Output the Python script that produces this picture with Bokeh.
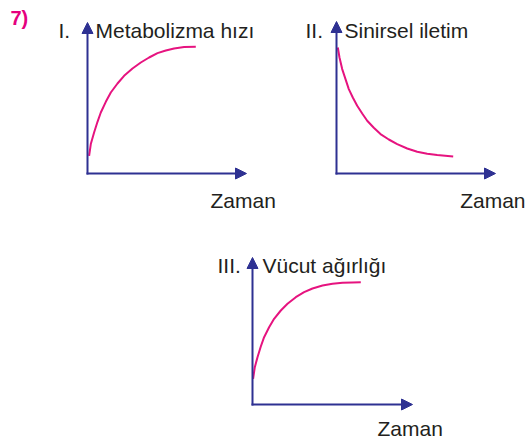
from bokeh.plotting import figure
from bokeh.layouts import column, row
from bokeh.models import Range1d, Arrow, NormalHead, Label, Spacer
from bokeh.embed import file_html
from bokeh.resources import INLINE

# ---------------- data (1 unit = 10 px of the drawing) ----------------
question = "7)"
numerals = ["I.", "II.", "III."]
titles = ["Metabolizma hızı", "Sinirsel iletim", "Vücut ağırlığı"]
x_label = "Zaman"

I_time = [0.16, 0.33, 0.66, 1.0, 1.33, 1.83, 2.33, 3.0, 3.66, 4.5, 5.33, 6.16, 7.0, 7.83, 8.66, 9.66, 10.83]
I_value = [1.77, 2.94, 4.10, 5.17, 6.10, 7.17, 8.10, 9.00, 9.77, 10.50, 11.10, 11.60, 12.04, 12.30, 12.50, 12.64, 12.67]

II_time = [0.13, 0.30, 0.57, 0.90, 1.23, 1.63, 2.07, 2.57, 3.07, 3.73, 4.40, 5.23, 6.07, 7.07, 8.07, 9.07, 10.07, 11.67]
II_value = [12.60, 11.60, 10.44, 9.44, 8.44, 7.60, 6.77, 6.00, 5.27, 4.57, 3.94, 3.40, 2.94, 2.50, 2.17, 1.97, 1.84, 1.70]

III_time = [0.06, 0.23, 0.50, 0.83, 1.16, 1.66, 2.16, 2.83, 3.50, 4.33, 5.16, 6.00, 7.00, 8.00, 9.00, 10.00, 10.83]
III_value = [2.57, 3.73, 4.73, 5.80, 6.73, 7.73, 8.57, 9.40, 10.07, 10.73, 11.23, 11.60, 11.90, 12.07, 12.17, 12.20, 12.23]

# ---------------- style ----------------
AXIS_C = "#2e3192"
CURVE_C = "#e6137f"
TEXT_C = "#231f20"
FONT = "Liberation Sans"
PX = 10.0  # pixels per data unit


def panel(w, h, left, top, ox, oy, x_len, y_len, t, v, num, title,
          num_x, title_x, label_y, zx, zy, z_align="left"):
    p = figure(width=w, height=h, output_backend="svg", toolbar_location=None,
               x_axis_type=None, y_axis_type=None, min_border=0,
               outline_line_color=None,
               x_range=Range1d((left - ox) / PX, (left + w - ox) / PX),
               y_range=Range1d((oy - (top + h)) / PX, (oy - top) / PX))
    p.background_fill_color = "white"
    p.border_fill_color = "white"

    def ux(px):
        return (px - ox) / PX

    def uy(py):
        return (oy - py) / PX

    # axes with arrowheads
    p.add_layout(Arrow(end=NormalHead(size=11, fill_color=AXIS_C, line_color=AXIS_C),
                       x_start=-0.1, y_start=0, x_end=x_len, y_end=0,
                       line_color=AXIS_C, line_width=2))
    p.add_layout(Arrow(end=NormalHead(size=11, fill_color=AXIS_C, line_color=AXIS_C),
                       x_start=0, y_start=-0.1, x_end=0, y_end=y_len,
                       line_color=AXIS_C, line_width=2))
    # curve
    p.line(t, v, line_color=CURVE_C, line_width=2, line_join="round")

    common = dict(text_font=FONT, text_font_size="21px", text_color=TEXT_C,
                  text_baseline="alphabetic")
    p.add_layout(Label(x=ux(num_x), y=uy(label_y), text=num, **common))
    p.add_layout(Label(x=ux(title_x), y=uy(label_y), text=title, **common))
    p.add_layout(Label(x=ux(zx), y=uy(zy), text=x_label, text_align=z_align, **common))
    return p, ux, uy


p1, ux1, uy1 = panel(280, 213, 0, 0, 87, 173, 15.9, 15.1, I_time, I_value,
                     numerals[0], titles[0], 58, 95, 30, 210, 200)
p1.add_layout(Label(x=ux1(10), y=uy1(17), text=question, text_font=FONT,
                    text_font_size="20px", text_font_style="bold",
                    text_color="#e5007e", text_baseline="alphabetic"))

p2, _, _ = panel(246, 213, 280, 0, 336, 173, 15.9, 15.2, II_time, II_value,
                 numerals[1], titles[1], 305, 344, 30, 525, 200, z_align="right")

p3, _, _ = panel(250, 228, 198, 213, 252, 404, 16.0, 14.7, III_time, III_value,
                 numerals[2], titles[2], 217, 262, 265, 377, 428)

layout = column(row(p1, p2), row(Spacer(width=198, height=228), p3))

open("out.html", "w").write(file_html(layout, INLINE))
